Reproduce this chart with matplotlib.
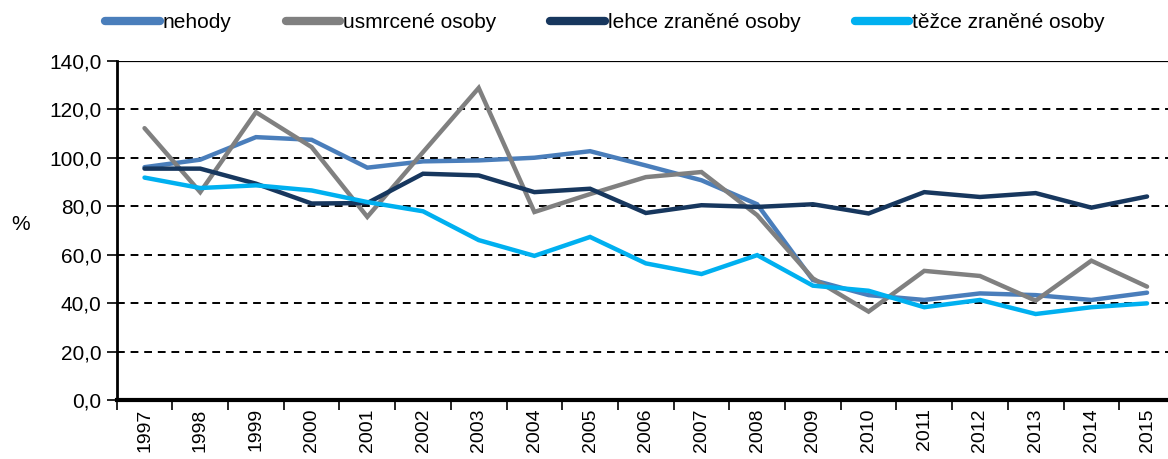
import matplotlib
matplotlib.use("Agg")
import matplotlib.pyplot as plt
from matplotlib.lines import Line2D

years = [str(y) for y in range(1997, 2016)]
nehody = [96.1, 99.2, 108.5, 107.4, 95.9, 98.5, 98.9, 100.0, 102.7, 96.8, 90.7, 80.8, 49.5, 43.3, 41.3, 44.0, 43.3, 41.3, 44.3]
usmrcene = [112.2, 85.8, 118.8, 104.4, 75.6, 102.3, 128.8, 77.6, 85.0, 92.0, 94.1, 76.3, 50.2, 36.5, 53.3, 51.2, 41.0, 57.5, 46.8]
lehce = [95.5, 95.5, 89.3, 81.1, 81.3, 93.4, 92.7, 85.8, 87.2, 77.2, 80.4, 79.7, 80.8, 77.0, 85.8, 83.8, 85.4, 79.4, 84.0]
tezce = [91.8, 87.5, 88.6, 86.5, 81.7, 77.9, 66.0, 59.5, 67.3, 56.4, 52.0, 59.8, 47.2, 45.1, 38.3, 41.3, 35.5, 38.3, 39.9]
yticks = [0, 20, 40, 60, 80, 100, 120, 140]

series = [
    ("nehody", nehody, "#4A7EBB"),
    ("usmrcené osoby", usmrcene, "#808080"),
    ("lehce zraněné osoby", lehce, "#17375E"),
    ("těžce zraněné osoby", tezce, "#00B0F0"),
]

fam = ["Liberation Sans", "DejaVu Sans"]

fig = plt.figure(figsize=(11.68, 4.59), dpi=100)
ax = fig.add_axes([0.0999, 0.1285, 0.906, 0.7390])

x = list(range(len(years)))
for name, vals, col in series:
    ax.plot(x, vals, color=col, lw=3.2, solid_capstyle="round", solid_joinstyle="miter", label=name, zorder=3)

ax.set_xlim(-0.5, len(years) - 0.5)
ax.set_ylim(0, 140)
ax.set_yticks(yticks)
ax.set_yticklabels([f"{v:.1f}".replace(".", ",") for v in yticks], fontfamily=fam, fontsize=15)
for v in yticks[1:-1]:
    ax.axhline(v, color="black", lw=1.4, ls=(0, (4, 3)), zorder=1)
ax.axhline(140, color="black", lw=1.6, zorder=1)

ax.set_xticks([i - 0.5 for i in range(len(years) + 1)])
ax.set_xticklabels([])
ax.set_xticks(x, minor=True)
ax.set_xticklabels(years, minor=True, rotation=90, fontfamily=fam, fontsize=14)
ax.tick_params(axis="x", which="minor", length=0, pad=6)
ax.tick_params(axis="x", which="major", length=7, width=1.2, direction="out")
ax.tick_params(axis="y", length=7, width=1.2, direction="out", pad=4)

for s in ["top", "right"]:
    ax.spines[s].set_visible(False)
ax.spines["left"].set_linewidth(2)
ax.spines["bottom"].set_linewidth(3)

fig.text(0.010, 0.51, "%", fontsize=15, fontfamily=fam, va="center", ha="left")

handles = [Line2D([0], [0], color=c, lw=6, solid_capstyle="round") for _, _, c in series]
labels = [n for n, _, _ in series]
fig.legend(handles, labels, loc="center", bbox_to_anchor=(0.518, 0.95), ncol=4, frameon=False,
           prop={"family": fam, "size": 15}, handlelength=2.6, handletextpad=0.15, columnspacing=2.6)

fig.savefig("out.png", dpi=100)
